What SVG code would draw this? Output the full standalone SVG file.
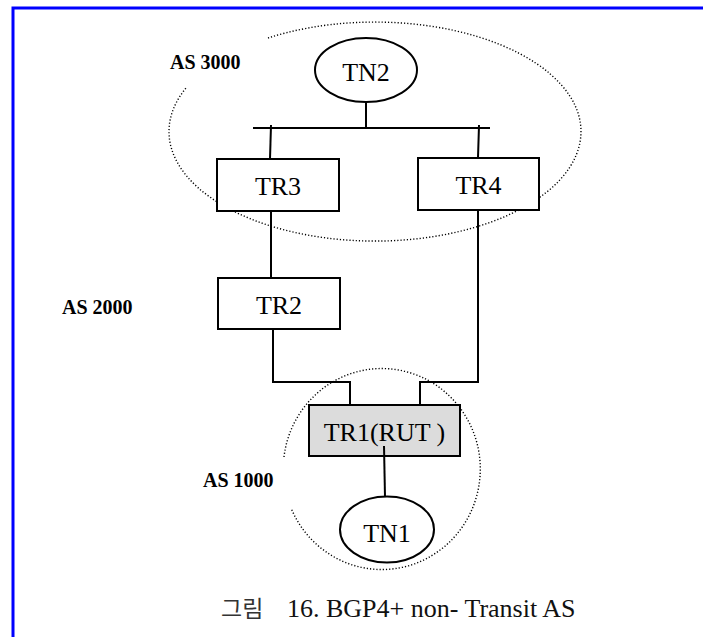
<svg xmlns="http://www.w3.org/2000/svg" width="703" height="637" viewBox="0 0 703 637">
<style>
.frame{fill:none;stroke:#0000ff;stroke-width:3}
.box{fill:#fff;stroke:#000;stroke-width:2}
.gray{fill:#dcdcdc}
.oval{fill:#fff;stroke:#000;stroke-width:2}
.ln{fill:none;stroke:#000;stroke-width:2}
.dot{fill:none;stroke:#000;stroke-width:1.4;stroke-dasharray:1.2 2}
.lbl{font-family:"Liberation Serif","Times New Roman",serif;font-size:26px;fill:#000;text-anchor:middle}
.as{font-family:"Liberation Serif","Times New Roman",serif;font-size:20px;font-weight:bold;fill:#000}
.cap{font-family:"Liberation Serif","Times New Roman",serif;font-size:26px;fill:#111}
.kr{font-family:"Noto Sans CJK KR",sans-serif;font-size:23px;fill:#333}
</style>
<rect width="703" height="637" fill="#fff"/>
<path class="frame" d="M13,637 V8 H703"/>
<g id="as-regions">
<path class="dot" d="M268,38 A206,109.5 0 1 1 186,88"/>
<path class="dot" d="M284,457 A98.5,100.5 0 1 1 291,508"/>
</g>
<g id="connectors">
<line class="ln" x1="366" y1="102" x2="366" y2="128"/>
<line class="ln" x1="253" y1="128" x2="490" y2="128"/>
<line class="ln" x1="271" y1="125" x2="270" y2="159"/>
<line class="ln" x1="479" y1="125" x2="478" y2="158"/>
<line class="ln" x1="271" y1="211" x2="271" y2="278"/>
<polyline class="ln" points="273,329 273,382 350,382 350,405"/>
<polyline class="ln" points="478,210 478,382 420,382 420,405"/>
</g>
<g id="TN2"><ellipse class="oval" cx="366" cy="70" rx="51" ry="32"/><text class="lbl" x="366" y="81">TN2</text></g>
<g id="TR3"><rect class="box" x="217" y="159" width="122" height="52"/><text class="lbl" x="278" y="195">TR3</text></g>
<g id="TR4"><rect class="box" x="418" y="158" width="121" height="52"/><text class="lbl" x="478.5" y="194">TR4</text></g>
<g id="TR2"><rect class="box" x="218" y="278" width="122" height="51"/><text class="lbl" x="279" y="314">TR2</text></g>
<g id="TR1"><rect class="box gray" x="309" y="405" width="151" height="51"/><text class="lbl" x="384.5" y="441">TR1(RUT )</text></g>
<g id="connector-tr1-tn1"><line class="ln" x1="384" y1="446" x2="385" y2="497"/></g>
<g id="TN1"><ellipse class="oval" cx="387" cy="529.5" rx="47" ry="33"/><text class="lbl" x="387" y="542">TN1</text></g>
<g id="labels">
<text class="as" x="170" y="69">AS 3000</text>
<text class="as" x="62" y="314">AS 2000</text>
<text class="as" x="203" y="487">AS 1000</text>
<text class="kr" x="221" y="617">그림</text>
<text class="cap" x="287" y="617">16. BGP4+ non- Transit AS</text>
</g>
</svg>
